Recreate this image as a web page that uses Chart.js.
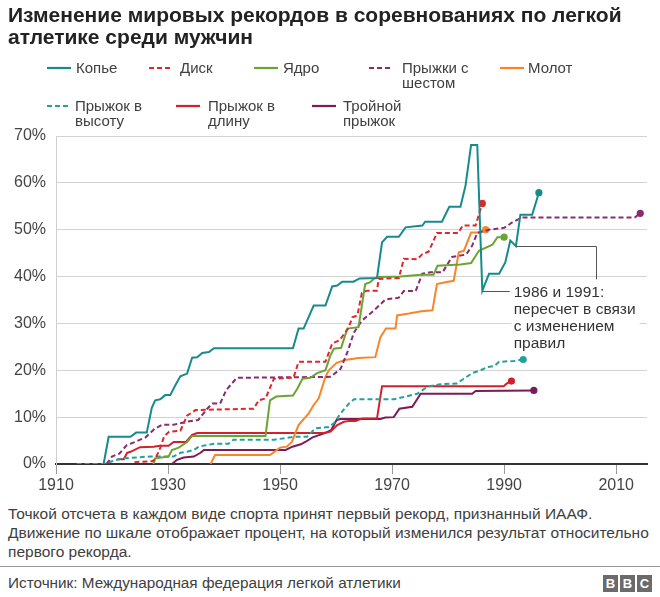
<!DOCTYPE html>
<html><head><meta charset="utf-8">
<script src="https://cdn.jsdelivr.net/npm/chart.js@4.4.1/dist/chart.umd.min.js"></script>
<style>
html,body{margin:0;padding:0;background:#fff;}
body{width:660px;height:597px;position:relative;overflow:hidden;font-family:"Liberation Sans",Arial,Helvetica,sans-serif;color:#222;}
#chart{position:absolute;left:0;top:0;}
#title{position:absolute;left:8px;top:4px;font-size:21px;font-weight:bold;line-height:22px;color:#222;white-space:nowrap;}
.lgt{position:absolute;font-size:15px;line-height:15px;color:#404040;white-space:nowrap;}
.lgs{position:absolute;}
#foot{position:absolute;left:8px;top:504px;font-size:15.5px;line-height:19px;color:#404040;white-space:nowrap;}
#sep{position:absolute;left:0;width:660px;top:566px;height:1px;background:#9a9a9a;}
#src{position:absolute;left:8px;top:574px;font-size:15.3px;line-height:18px;color:#404040;white-space:nowrap;}
.bbc{position:absolute;top:575px;width:15px;height:17px;background:#6b6b6b;color:#fff;font-weight:bold;font-size:13px;line-height:17px;text-align:center;}
</style></head><body>
<canvas id="chart" width="660" height="500"></canvas>
<div id="title">Изменение мировых рекордов в соревнованиях по легкой<br>атлетике среди мужчин</div>
<div id="legend"></div>
<div id="foot">Точкой отсчета в каждом виде спорта принят первый рекорд, признанный ИААФ.<br>Движение по шкале отображает процент, на который изменился результат относительно<br>первого рекорда.</div>
<div id="sep"></div>
<div id="src">Источник: Международная федерация легкой атлетики</div>
<div class="bbc" style="left:603px">B</div><div class="bbc" style="left:620px">B</div><div class="bbc" style="left:637px">C</div>
<script>
// ---- data: [year, % change vs first record] ----
const seriesNames = ['Копье','Диск','Ядро','Прыжки с\nшестом','Молот','Прыжок в\nвысоту','Прыжок в\nдлину','Тройной\nпрыжок'];
const javelin = [[1918.5,0],[1919.4,5.8],[1923.3,5.8],[1924.3,6.7],[1926.2,6.7],[1927.1,12],[1927.7,13.6],[1928.6,13.8],[1929.5,14.7],[1930.4,14.7],[1931.3,16.8],[1932.2,18.7],[1933.4,19.3],[1934.3,22.7],[1935.2,22.8],[1936.1,23.7],[1937.3,23.9],[1938.2,24.7],[1952.3,24.7],[1953.3,28.9],[1954.2,28.9],[1956,33.8],[1958.1,33.8],[1959.3,37.9],[1960.2,38.1],[1961.1,38.9],[1963.1,38.9],[1964.2,39.6],[1967.3,39.7],[1968.2,47.3],[1969.1,48.5],[1971.2,48.5],[1972.4,50.5],[1975.4,50.9],[1975.9,51.7],[1978.9,51.7],[1980.2,54.9],[1982.2,54.9],[1983.1,59.4],[1984.1,68.1],[1985.2,68.1],[1986.1,37],[1987.3,40.6],[1989.1,40.6],[1990.2,43],[1991.1,47.7],[1992.1,46.5],[1992.9,53.2],[1995,53.2],[1996.2,57.9]];
const discus = [[1924,0.4],[1927.2,0.6],[1927.7,1],[1928.7,3.7],[1929.3,5.9],[1930.2,6.9],[1932.2,7.1],[1933.4,10.3],[1934.9,11.5],[1937.3,11.6],[1945.3,11.8],[1946.2,13.6],[1947.4,14],[1948.9,18.2],[1952.4,18.4],[1953.3,21.8],[1958.1,21.8],[1959.3,25.7],[1960.6,26.4],[1962.2,29],[1962.9,31.3],[1963.8,31.7],[1964.6,36.5],[1965.5,37],[1967.3,37],[1967.6,39.5],[1971.2,39.7],[1972.1,43.8],[1974.5,43.7],[1975.4,44.8],[1976.5,45.3],[1978,49.3],[1981.8,49.3],[1982.6,50.9],[1984.9,50.9],[1986.1,55.6]];
const shotPut = [[1927.4,0],[1927.7,1.2],[1930.1,1.6],[1930.7,3],[1931.9,3.5],[1933.4,4.7],[1934.3,6],[1947.4,6],[1948.2,13.6],[1949.3,14.4],[1952.3,14.6],[1953.1,16.1],[1954,18.2],[1955.4,18.4],[1956.6,19.4],[1958.1,20],[1959,23.2],[1959.6,24.6],[1960.9,24.8],[1962,28.9],[1964,29.2],[1965.2,38.4],[1966.1,38.8],[1966.7,39.5],[1967.6,39.9],[1971.5,40],[1975.1,40.4],[1977.4,40.4],[1978.1,42.3],[1982.2,42.6],[1984.1,42.9],[1985.5,45.5],[1987.9,46.8],[1988.8,48.4],[1990,48.4]];
const poleVault = [[1919,0],[1920,1.6],[1921.3,2.2],[1922.6,4],[1924.3,4.8],[1926,5.7],[1927.6,7.5],[1929,8.4],[1931,8.4],[1933.3,9],[1935.4,9.4],[1937,11.8],[1937.9,12.9],[1939.3,12.9],[1940.4,15.8],[1941.4,17.2],[1942.3,18.4],[1959,18.6],[1960.8,20.3],[1962,23.8],[1963.2,28.1],[1964.6,30.6],[1966.7,32.7],[1968.8,35.1],[1971.2,35.5],[1972.1,36.9],[1974.2,36.9],[1975.4,40.6],[1976.8,40.9],[1979,40.9],[1980.7,44.2],[1983.2,44.7],[1984.3,46.6],[1985.2,49.3],[1987.3,50],[1990,50.4],[1991.5,51.6],[1993.2,52.6],[2013.3,52.6],[2014.3,53.5]];
const hammer = [[1937.6,0],[1938.4,1.9],[1948.2,1.9],[1950,3.5],[1951.2,3.7],[1952.1,4.7],[1953.3,8.3],[1955.1,10.8],[1956,12.6],[1956.9,14],[1958.1,18.6],[1958.7,20],[1960.1,21.6],[1961.6,22.2],[1964,22.6],[1967,22.8],[1967.9,27],[1968.9,28.9],[1970.6,28.9],[1970.9,31.7],[1973,32.1],[1975.2,32.6],[1977.2,32.8],[1978,38.4],[1979.5,38.8],[1981,39.1],[1981.9,45.2],[1982.8,45.5],[1984.1,49.4],[1985.5,49.4],[1986.7,50]];
const highJump = [[1913.7,0],[1918.6,0],[1920,0.6],[1921.8,1.2],[1926.8,1.6],[1931,1.6],[1932.2,2.4],[1933.4,2.6],[1934.6,3],[1935.5,3.7],[1936.7,4],[1938.2,4.3],[1940.8,4.3],[1941.7,5.2],[1949,5.2],[1952.4,5.8],[1954.8,5.8],[1956.3,7.6],[1958.7,7.9],[1959.6,8.7],[1960.8,10.8],[1962.3,12.9],[1963.2,13.8],[1970.3,13.8],[1972.1,14.3],[1974.5,15],[1976.3,16.5],[1978.6,17],[1981.6,17.2],[1982.8,18.2],[1984.3,19.4],[1985.8,20],[1987,20.7],[1988.2,20.9],[1989.1,21.8],[1991.8,22],[1993.4,22.3]];
const longJump = [[1921,1],[1922.1,1],[1922.7,2.4],[1923.3,2.6],[1925,3.6],[1927.4,3.7],[1928.6,3.9],[1930.1,3.9],[1931,4.7],[1933.2,4.7],[1934.3,6.2],[1935.2,6.6],[1957.8,6.6],[1959,6.9],[1960.2,8.3],[1961.4,9],[1962.3,9.2],[1963.5,9.2],[1964.6,9.7],[1967.3,9.7],[1968.2,16.6],[1989.9,16.6],[1990.5,17.2],[1991.3,17.7]];
const tripleJump = [[1930.7,0],[1931.6,0.9],[1932.8,1.4],[1934.6,1.6],[1935.8,2.4],[1936.4,3],[1951,3],[1952.2,3.7],[1953.7,4.2],[1954.5,4.7],[1955.8,5.7],[1958,6.6],[1959.1,7.2],[1960.1,9.4],[1960.8,9.6],[1967.9,9.6],[1968.8,9.9],[1970.3,10],[1971.3,11.8],[1973.6,12.2],[1975.1,15],[1984.3,15],[1984.9,15.6],[1995.3,15.7]];
const xTickValues = [1910,1930,1950,1970,1990,2010];
const yTickValues = [0,10,20,30,40,50,60,70];
const noteLines = ['1986 и 1991:','пересчет в связи','с изменением','правил'];

// ---- styles & layout ----
const seriesData = [javelin, discus, shotPut, poleVault, hammer, highJump, longJump, tripleJump];
const colors = ['#168b8b','#e0262b','#6aa434','#8a2b6f','#f7862a','#25a19d','#d4202a','#7c1c57'];
const dashes = [[],[5,3],[],[5,3],[],[5,3],[],[]];
// legend: [sampleLeft, textLeft, centerY]
const legendPos = [[47,76,68],[149,180,68],[254,283,68],[369,402,68],[500,528,68],[47,75,106],[176,208,106],[312,343,106]];

const lg = document.getElementById('legend');
seriesNames.forEach((name,i)=>{
  const [sx,tx,cy] = legendPos[i];
  const svgNS='http://www.w3.org/2000/svg';
  const svg=document.createElementNS(svgNS,'svg');
  svg.setAttribute('width','24');svg.setAttribute('height','4');
  svg.setAttribute('class','lgs');
  svg.style.left=sx+'px';svg.style.top=(cy-2)+'px';
  const ln=document.createElementNS(svgNS,'line');
  ln.setAttribute('x1','0');ln.setAttribute('x2','24');ln.setAttribute('y1','2');ln.setAttribute('y2','2');
  ln.setAttribute('stroke',colors[i]);ln.setAttribute('stroke-width','2.2');
  if(dashes[i].length) ln.setAttribute('stroke-dasharray',dashes[i].join(' '));
  svg.appendChild(ln);lg.appendChild(svg);
  const t=document.createElement('div');t.className='lgt';
  t.style.left=tx+'px';t.style.top=(cy-8)+'px';
  t.innerHTML=name.split('\n').join('<br>');
  lg.appendChild(t);
});

const noteBg = {
  id:'noteBg',
  beforeDatasetsDraw(chart){
    const {ctx, scales:{x,y}} = chart;
    ctx.save();ctx.fillStyle='#fff';
    ctx.fillRect(x.getPixelForValue(1991.3), y.getPixelForValue(38.2), x.getPixelForValue(2014.2)-x.getPixelForValue(1991.3), y.getPixelForValue(24.5)-y.getPixelForValue(38.2));
    ctx.restore();
  },
  afterDatasetsDraw(chart){
    const {ctx, scales:{x,y}} = chart;
    ctx.save();
    ctx.strokeStyle='#555';ctx.lineWidth=1;
    ctx.beginPath();
    const j1=javelin.find(p=>p[0]===1986.1), j2=javelin.find(p=>p[0]===1992.1);
    const y1=Math.round(y.getPixelForValue(j1[1]))+0.5;
    ctx.moveTo(x.getPixelForValue(j1[0]),y1);ctx.lineTo(x.getPixelForValue(1991.0),y1);
    const y2=Math.round(y.getPixelForValue(j2[1]))+0.5, xr=Math.round(x.getPixelForValue(2006.4))+0.5;
    ctx.moveTo(x.getPixelForValue(j2[0]),y2);ctx.lineTo(xr,y2);ctx.lineTo(xr,y.getPixelForValue(39.4));
    ctx.stroke();
    ctx.fillStyle='#333';ctx.font='15.5px "Liberation Sans", Arial, sans-serif';
    ctx.textBaseline='middle';ctx.textAlign='left';
    const tx=x.getPixelForValue(1991.7), ty=y.getPixelForValue(36.5);
    noteLines.forEach((s,i)=>ctx.fillText(s,tx,ty+i*17));
    ctx.restore();
  }
};

const tickFont={family:'"Liberation Sans", Arial, sans-serif', size:16};
new Chart(document.getElementById('chart'),{
  type:'line',
  data:{datasets: seriesData.map((d,i)=>({
    label: seriesNames[i].replace('\n',' '),
    data: d.map(p=>({x:p[0],y:p[1]})),
    borderColor: colors[i], backgroundColor: colors[i],
    borderWidth: 2, borderDash: dashes[i], tension: 0, fill:false,
    pointRadius: c=> c.dataIndex===d.length-1 ? 3.6 : 0,
    pointBorderWidth:0, pointHoverRadius:0
  }))},
  options:{
    responsive:false, animation:false, events:[],
    layout:{padding:{left:0,right:13,top:136,bottom:0}},
    plugins:{legend:{display:false}, tooltip:{enabled:false}},
    scales:{
      x:{type:'linear', min:1910, max:2015.5,
        afterBuildTicks:s=>{s.ticks=xTickValues.map(v=>({value:v}));},
        afterFit:s=>{s.height=36;},
        ticks:{callback:v=>String(v), font:tickFont, color:'#444', padding:2, maxRotation:0, autoSkip:false},
        grid:{drawOnChartArea:false, drawTicks:true, tickLength:10, color:'#999'},
        border:{display:true, color:'#333', width:2}
      },
      y:{min:0, max:70,
        afterBuildTicks:s=>{s.ticks=yTickValues.map(v=>({value:v}));},
        afterFit:s=>{s.width=56;},
        ticks:{callback:v=>v+'%', font:tickFont, color:'#444', padding:10},
        grid:{drawTicks:false, color:c=>c.tick && c.tick.value===0 ? '#333' : '#d3d3d3', lineWidth:c=>c.tick && c.tick.value===0 ? 2 : 1},
        border:{display:true, color:'#cfcfcf', width:1}
      }
    }
  },
  plugins:[noteBg]
});
</script>
</body></html>
